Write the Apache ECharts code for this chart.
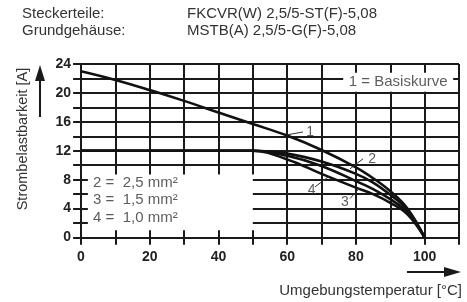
<!DOCTYPE html>
<html>
<head>
<meta charset="utf-8">
<script src="https://cdn.jsdelivr.net/npm/echarts@6/dist/echarts.min.js"></script>
<style>
  html, body { margin: 0; padding: 0; background: #fff; }
  #chart { width: 467px; height: 302px; }
</style>
</head>
<body>
<div id="chart"></div>
<script>
// Temperatur [°C]
var temps = [0, 10, 20, 30, 40, 50, 60, 70, 80, 85, 90, 95, 100]
// Kurve 1 = Basiskurve
var curve1 = [23, 21.8, 20.4, 18.9, 17.3, 15.7, 14.1, 12.1, 9.7, 8.2, 6.4, 4.0, 0]
// 2 = 2,5 mm², 3 = 1,5 mm², 4 = 1,0 mm²
var curve2 = [12, 12, 12, 12, 12, 12, 11.6, 10.5, 8.8, 7.6, 5.9, 3.8, 0]
var curve3 = [12, 12, 12, 12, 12, 12, 11.3, 9.9, 7.8, 6.7, 5.3, 3.5, 0]
var curve4 = [12, 12, 12, 12, 12, 12, 10.8, 8.8, 6.9, 6.0, 4.8, 3.2, 0]

var xTicks = [10, 20, 30, 40, 50, 60, 70, 80, 90, 100, 110]
var yTicks = [2, 4, 6, 8, 10, 12, 14, 16, 18, 20, 22, 24]

var legendRows = ['2 =  2,5 mm²', '3 =  1,5 mm²', '4 =  1,0 mm²']

var font = '"Liberation Sans", Arial, sans-serif'
var ink = '#1a1a1a'

// area kept free for the "1 = Basiskurve" text
var noteBox = { x1: 76.3, x2: 108.3, y1: 20.15, y2: 22.8 }

function pairs(xs, ys) {
  return xs.map(function (x, i) { return [x, ys[i]] })
}

// grid segments (bottom-left kept free for the legend text)
var gridSegs = []
gridSegs.push({ coords: [[-2.3, 0], [110, 0]] })
gridSegs.push({ coords: [[0, -1], [0, 24]] })
yTicks.forEach(function (y) {
  if (y <= 8) {
    gridSegs.push({ coords: [[-2.3, y], [2, y]] })
    gridSegs.push({ coords: [[50, y], [110, y]] })
  } else if (y > noteBox.y1 && y < noteBox.y2) {
    gridSegs.push({ coords: [[-2.3, y], [noteBox.x1, y]] })
    gridSegs.push({ coords: [[noteBox.x2, y], [110, y]] })
  } else {
    gridSegs.push({ coords: [[-2.3, y], [110, y]] })
  }
})
xTicks.forEach(function (x) {
  if (x <= 50) {
    gridSegs.push({ coords: [[x, 8.7], [x, 24]] })
    gridSegs.push({ coords: [[x, -1], [x, 1]] })
  } else if (x > noteBox.x1 && x < noteBox.x2) {
    gridSegs.push({ coords: [[x, -1], [x, noteBox.y1]] })
    gridSegs.push({ coords: [[x, noteBox.y2], [x, 24]] })
  } else {
    gridSegs.push({ coords: [[x, -1], [x, 24]] })
  }
})

// little leader lines from curves to their numbers
var leaders = [
  { coords: [[60, 14.2], [64.6, 14.6]] },
  { coords: [[78.3, 9.5], [82.1, 10.9]] },
  { coords: [[81, 6.8], [78.3, 5.4]] },
  { coords: [[72, 8.4], [68.1, 7.0]] }
]
var curveLabels = [
  { value: [66.7, 14.6], name: '1' },
  { value: [84.7, 10.9], name: '2' },
  { value: [76.8, 4.9], name: '3' },
  { value: [67.1, 6.6], name: '4' }
]

function curve(data) {
  return {
    type: 'line',
    data: pairs(temps, data),
    smooth: 0.4,
    showSymbol: false,
    clip: false,
    z: 5,
    lineStyle: { color: '#111', width: 2.6 }
  }
}

var chart = echarts.init(document.getElementById('chart'))
chart.setOption({
  animation: false,
  textStyle: { fontFamily: font },
  grid: { left: 81, right: 8, top: 64, bottom: 64.5 },
  xAxis: {
    type: 'value',
    min: 0,
    max: 110,
    interval: 10,
    axisLine: { show: false },
    axisTick: { show: false },
    splitLine: { show: false },
    axisLabel: {
      margin: 13,
      color: '#222',
      fontSize: 14,
      fontWeight: 'bold',
      fontFamily: font,
      formatter: function (v) { return v % 20 === 0 && v <= 100 ? v : '' }
    }
  },
  yAxis: {
    type: 'value',
    min: 0,
    max: 24,
    interval: 4,
    axisLine: { show: false },
    axisTick: { show: false },
    splitLine: { show: false },
    axisLabel: { margin: 10, color: '#222', fontSize: 14, fontWeight: 'bold', fontFamily: font }
  },
  graphic: [
    { type: 'text', x: 22, y: 6, style: { text: 'Steckerteile:', font: '15px ' + font, fill: '#333' } },
    { type: 'text', x: 22, y: 23, style: { text: 'Grundgehäuse:', font: '15px ' + font, fill: '#333' } },
    { type: 'text', x: 187, y: 6, style: { text: 'FKCVR(W) 2,5/5-ST(F)-5,08', font: '15px ' + font, fill: '#333' } },
    { type: 'text', x: 187, y: 23, style: { text: 'MSTB(A) 2,5/5-G(F)-5,08', font: '15px ' + font, fill: '#333' } },
    {
      type: 'text', x: 23, y: 139, rotation: Math.PI / 2,
      style: { text: 'Strombelastbarkeit [A]', font: '14.5px ' + font, fill: '#333', align: 'center', verticalAlign: 'middle' }
    },
    { type: 'line', shape: { x1: 40, y1: 117, x2: 40, y2: 78 }, style: { stroke: ink, lineWidth: 2 } },
    { type: 'polygon', shape: { points: [[35, 81], [40, 65], [45, 81]] }, style: { fill: ink } },
    {
      type: 'text', x: 462, y: 291,
      style: { text: 'Umgebungstemperatur [°C]', font: '15px ' + font, fill: '#333', align: 'right', verticalAlign: 'middle' }
    },
    { type: 'line', shape: { x1: 407, y1: 272, x2: 448, y2: 272 }, style: { stroke: ink, lineWidth: 2 } },
    { type: 'polygon', shape: { points: [[444, 267], [461, 272], [444, 277]] }, style: { fill: ink } }
  ],
  series: [
    {
      type: 'lines',
      coordinateSystem: 'cartesian2d',
      data: gridSegs,
      clip: false,
      silent: true,
      z: 1,
      lineStyle: { color: ink, width: 2, opacity: 1 }
    },
    curve(curve1),
    curve(curve2),
    curve(curve3),
    curve(curve4),
    {
      type: 'lines',
      coordinateSystem: 'cartesian2d',
      data: leaders,
      clip: false,
      z: 6,
      lineStyle: { color: '#333', width: 1, opacity: 1 }
    },
    {
      type: 'scatter',
      data: curveLabels,
      symbolSize: 0,
      z: 7,
      label: {
        show: true,
        position: 'inside',
        formatter: '{b}',
        color: '#333',
        fontSize: 14,
        fontFamily: font
      }
    },
    {
      type: 'scatter',
      data: [{ value: [92.3, 21.5], name: '1 = Basiskurve' }],
      symbolSize: 0,
      z: 8,
      label: {
        show: true,
        position: 'inside',
        formatter: '{b}',
        color: '#333',
        fontSize: 15,
        fontFamily: font
      }
    },
    {
      type: 'scatter',
      data: legendRows.map(function (t, i) { return { value: [3.5, [7.6, 5.2, 2.7][i]], name: t } }),
      symbolSize: 0,
      z: 7,
      label: {
        show: true,
        position: 'right',
        distance: 0,
        formatter: '{b}',
        color: '#333',
        fontSize: 15,
        fontFamily: font
      }
    }
  ]
})
</script>
</body>
</html>
